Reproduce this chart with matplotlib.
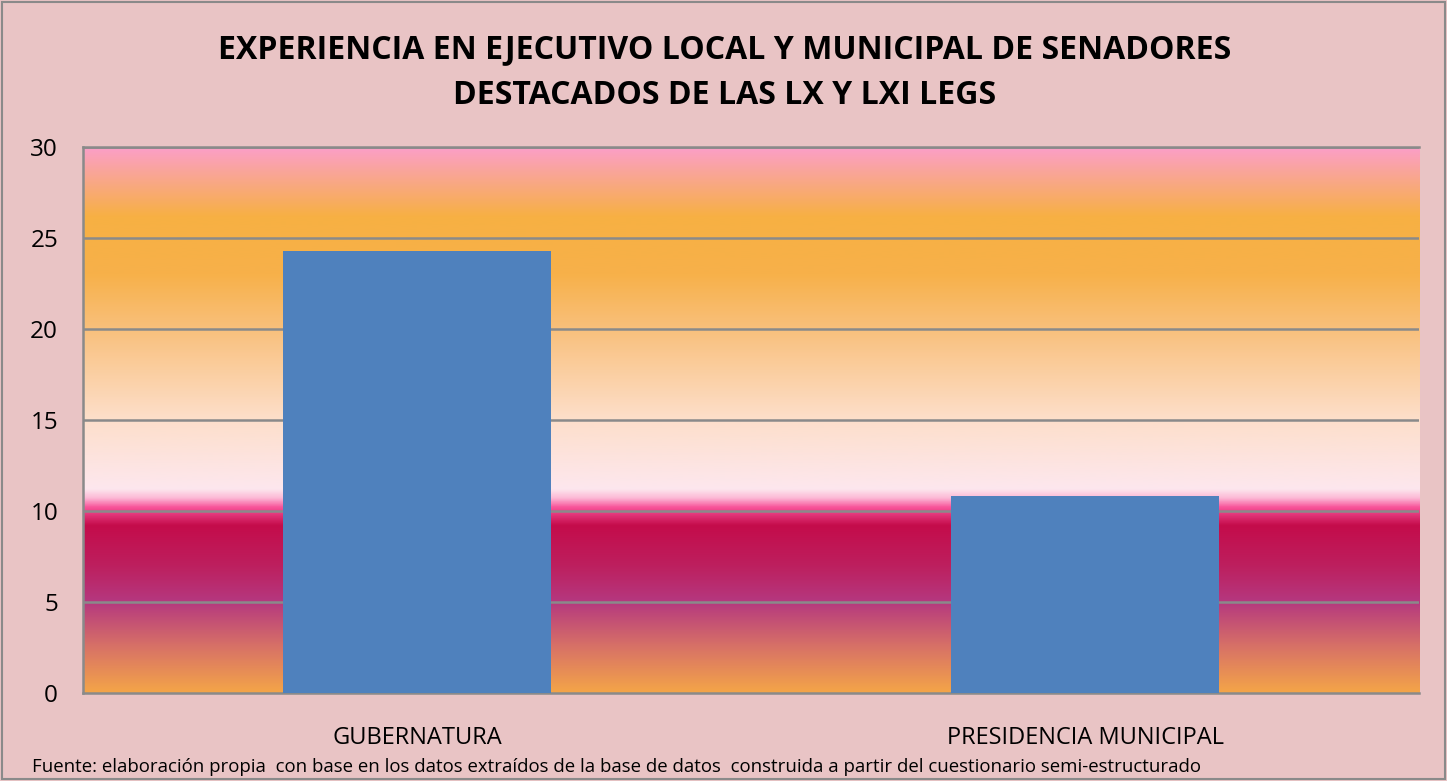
import matplotlib
matplotlib.use("Agg")
import matplotlib.pyplot as plt
import numpy as np
from matplotlib.colors import LinearSegmentedColormap
from matplotlib.patches import Rectangle

# ---------------------------------------------------------------------------
# Datos
# ---------------------------------------------------------------------------
categorias = ["GUBERNATURA", "PRESIDENCIA MUNICIPAL"]
valores = [24.3, 10.8]
ticks_y = [0, 5, 10, 15, 20, 25, 30]

titulo = ("EXPERIENCIA EN EJECUTIVO LOCAL Y MUNICIPAL DE SENADORES\n"
          "DESTACADOS DE LAS LX Y LXI LEGS")
fuente = ("Fuente: elaboración propia  con base en los datos extraídos de la base de datos  "
          "construida a partir del cuestionario semi-estructurado")

# paradas del degradado del fondo del área de trazado (valor y, color)
paradas = [
    (0.0, "#F4A548"),
    (2.5, "#D87266"),
    (5.0, "#B5387F"),
    (7.0, "#BD1F5E"),
    (9.2, "#C40C4B"),
    (10.2, "#F8549A"),
    (10.7, "#FCB8D5"),
    (11.2, "#FDE7EE"),
    (15.0, "#FDDFCB"),
    (20.0, "#F9C07C"),
    (23.0, "#F7B14A"),
    (26.2, "#F7B043"),
    (30.0, "#FB9FC8"),
]

FONDO = "#E9C4C5"
GRIS = "#8A8A8A"
AZUL = "#4F81BD"
FAMILIA = ["Open Sans", "DejaVu Sans"]

fig = plt.figure(figsize=(14.47, 7.81), dpi=100, facecolor=FONDO)
fig.patches.append(Rectangle((0.0015, 0.0025), 0.997, 0.995, transform=fig.transFigure,
                             fill=False, edgecolor=GRIS, linewidth=1.5))

ax = fig.add_axes([0.0574, 0.1127, 0.9233, 0.6991])
ax.set_facecolor(FONDO)

# degradado
ymax = ticks_y[-1]
cmap = LinearSegmentedColormap.from_list(
    "fondo", [(v / ymax, c) for v, c in paradas], N=1024)
grad = np.linspace(0, 1, 800).reshape(-1, 1)
ax.imshow(grad, cmap=cmap, origin="lower", aspect="auto",
          extent=[-0.5, 1.5, 0, ymax], zorder=0, interpolation="bilinear")

x = np.arange(len(categorias))
ax.bar(x, valores, width=0.4, color=AZUL, zorder=3)

ax.set_xlim(-0.5, 1.5)
ax.set_ylim(0, ymax)
ax.set_yticks(ticks_y)
ax.set_xticks(x)
ax.set_xticklabels(categorias)
for t in ticks_y[1:]:
    ax.axhline(t, color=GRIS, linewidth=1.8, zorder=2)

ax.spines["right"].set_visible(False)
for lado in ["left", "bottom", "top"]:
    ax.spines[lado].set_color(GRIS)
    ax.spines[lado].set_linewidth(1.8)
ax.tick_params(axis="both", length=0, labelcolor="black")
ax.tick_params(axis="y", pad=18, labelsize=17.5)
ax.tick_params(axis="x", pad=24, labelsize=17)
for lbl in ax.get_xticklabels() + ax.get_yticklabels():
    lbl.set_family(FAMILIA)

fig.text(0.501, 0.907, titulo, ha="center", va="center", fontsize=23,
         fontweight="bold", family=FAMILIA, linespacing=1.5)
fig.text(0.022, 0.018, fuente, ha="left", va="center", fontsize=13.4,
         family=FAMILIA)

fig.savefig("out.png", dpi=100, facecolor=FONDO)
